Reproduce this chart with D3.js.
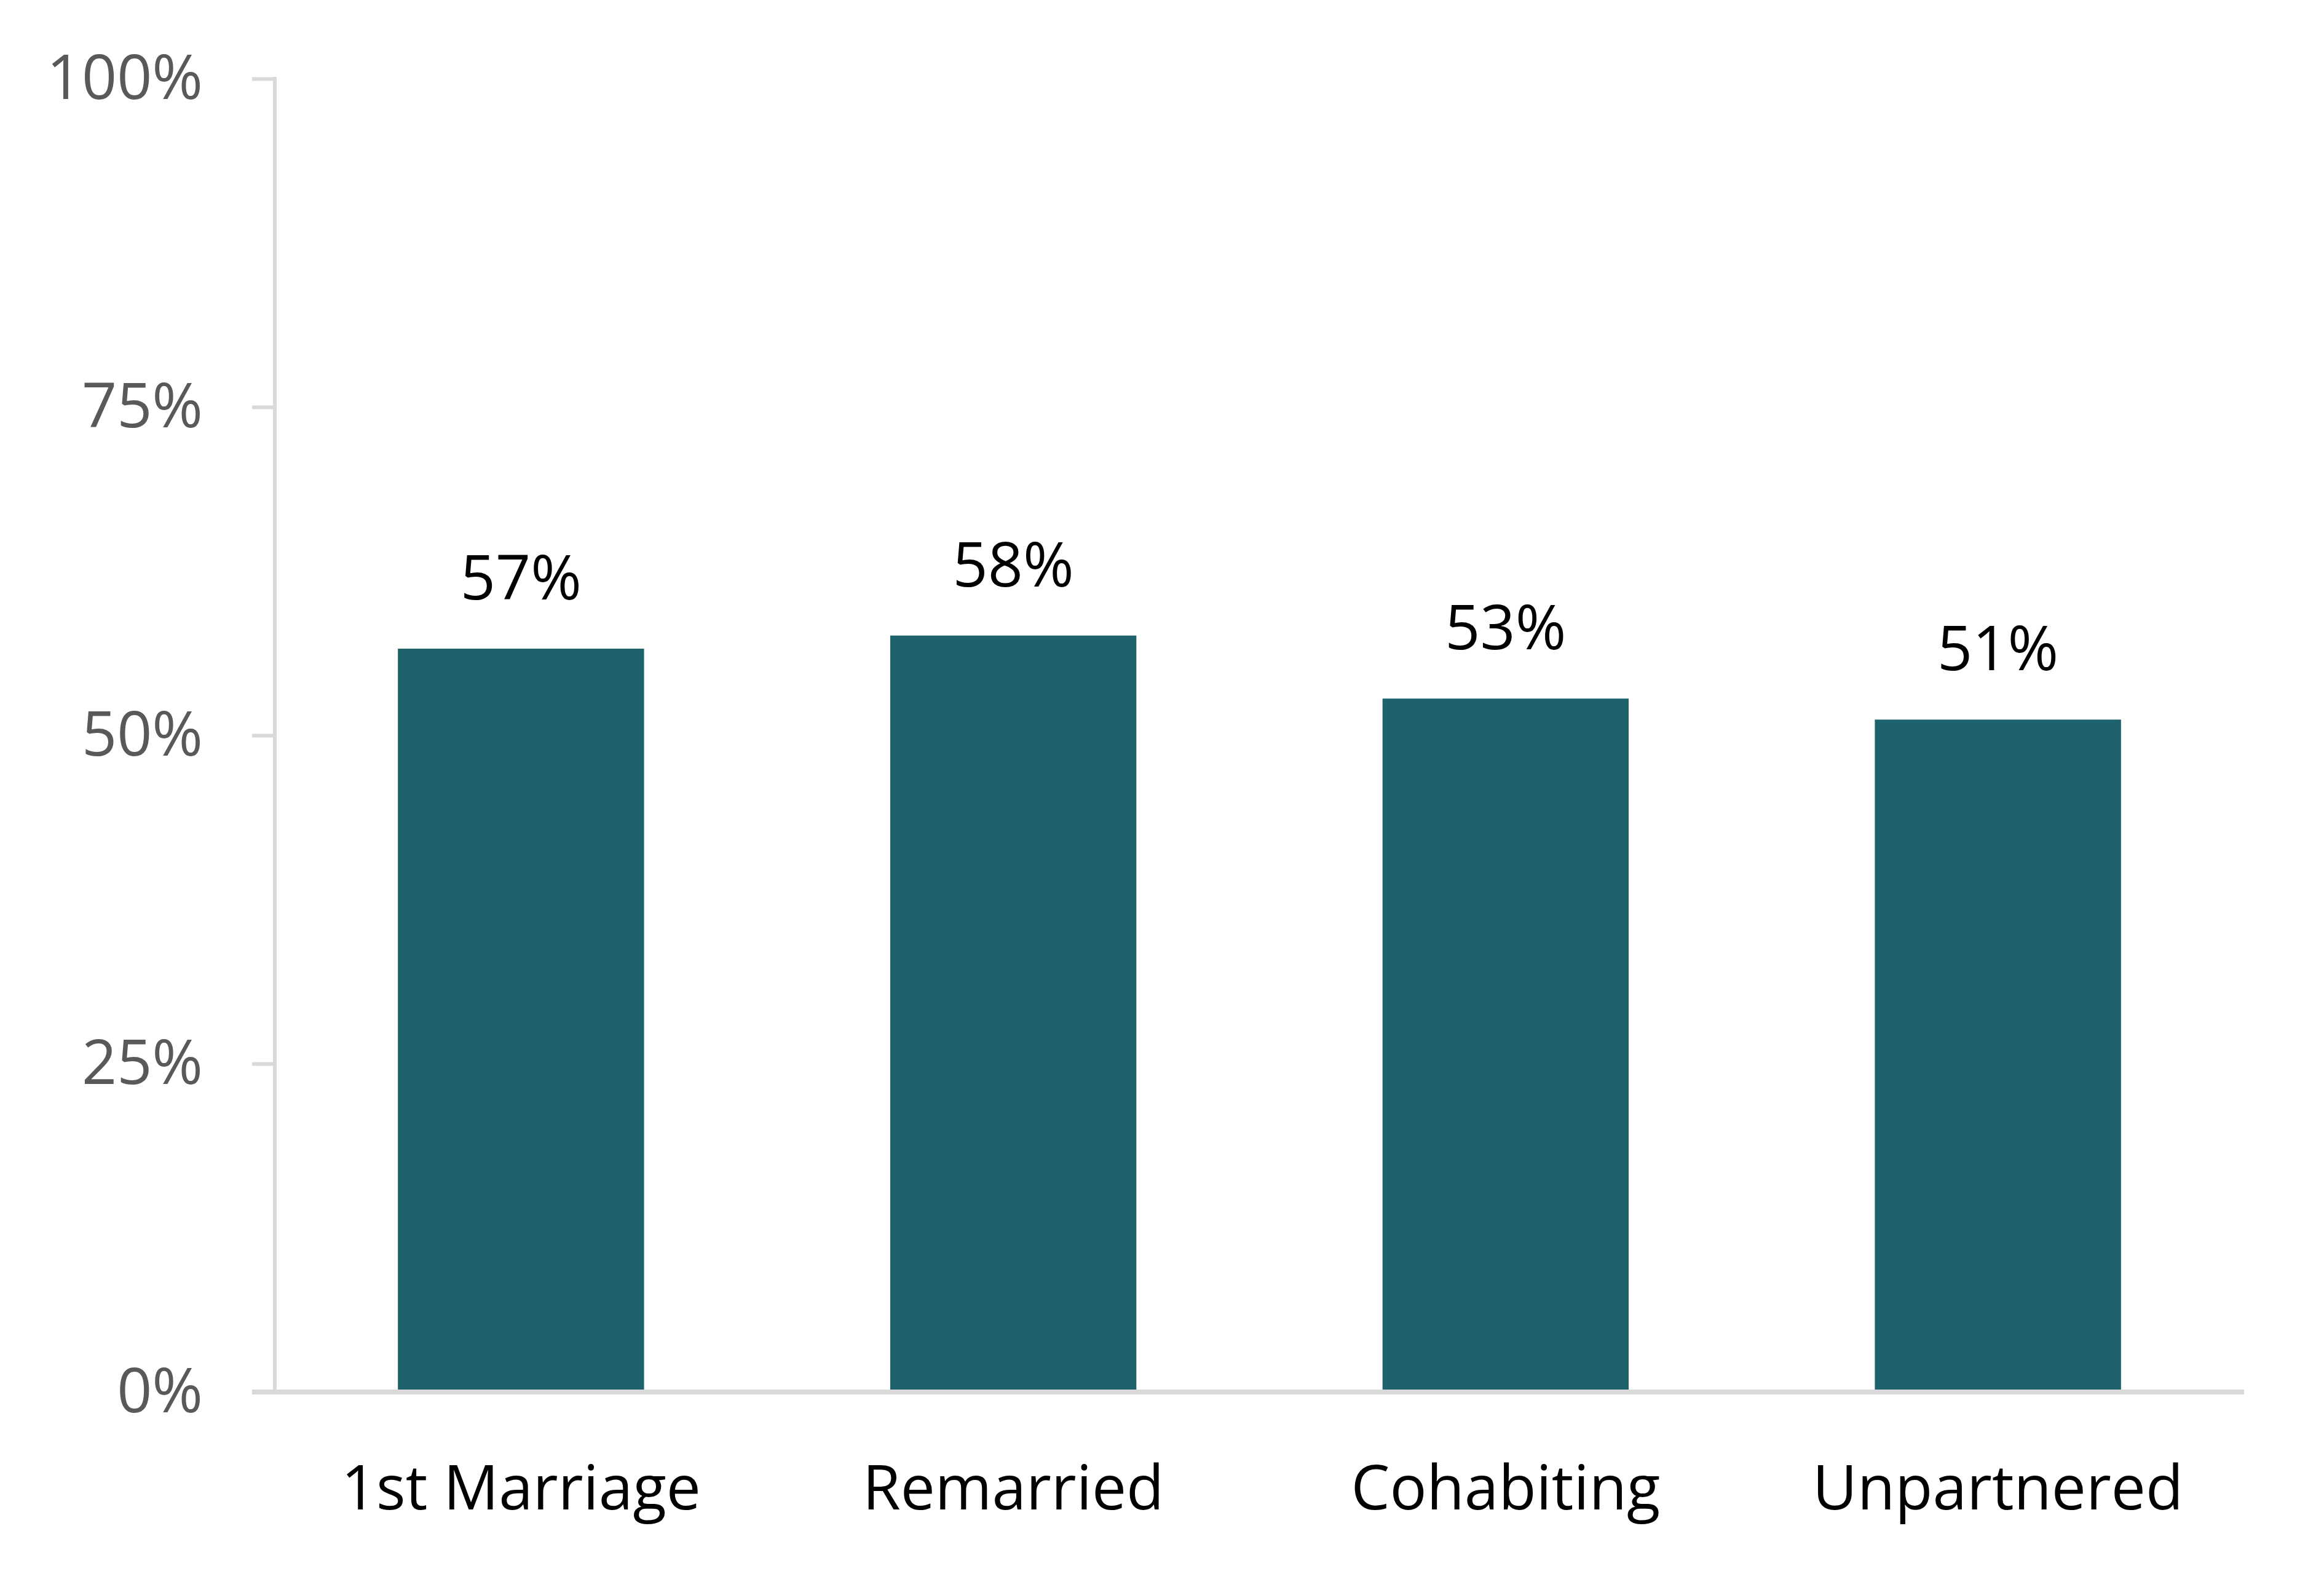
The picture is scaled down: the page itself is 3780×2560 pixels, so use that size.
<!DOCTYPE html>
<html>
<head>
<meta charset="utf-8">
<script src="https://cdn.jsdelivr.net/npm/d3@7"></script>
<style>
  html, body { margin: 0; padding: 0; background: #fff; }
  svg { display: block; }
</style>
</head>
<body>
<div id="chart-area"></div>
<script>
// data
const categories = ["1st Marriage", "Remarried", "Cohabiting", "Unpartnered"];
const values = [56.6, 57.6, 52.8, 51.2];
const valueLabels = ["57%", "58%", "53%", "51%"];
const yTicks = [0, 25, 50, 75, 100];

const W = 3780, H = 2560;
const margin = { left: 447, top: 128, right: 130, bottom: 296 };
const width = W - margin.left - margin.right;
const height = H - margin.top - margin.bottom;

const font = "'Open Sans', 'Noto Sans', sans-serif";

const svg = d3.select("#chart-area").append("svg")
	.attr("width", W)
	.attr("height", H);

const g = svg.append("g")
	.attr("transform", `translate(${margin.left},${margin.top})`);

const x = d3.scaleBand()
	.domain(categories)
	.range([0, width])
	.paddingInner(0.5)
	.paddingOuter(0.25);

const y = d3.scaleLinear()
	.domain([0, 100])
	.range([height, 0]);

// y axis
const axisLeft = d3.axisLeft(y)
	.tickValues(yTicks)
	.tickFormat(d => d + "%")
	.tickSize(37)
	.tickPadding(80);

const yAxis = g.append("g").call(axisLeft);
yAxis.select(".domain").remove();
yAxis.selectAll(".tick line")
	.attr("stroke", "#d9d9d9")
	.attr("stroke-width", 6);
yAxis.selectAll(".tick text")
	.attr("fill", "#595959")
	.attr("font-family", font)
	.attr("font-size", "100px");

g.append("line")
	.attr("x1", 0).attr("x2", 0)
	.attr("y1", y(100) - 3).attr("y2", y(0))
	.attr("stroke", "#d9d9d9")
	.attr("stroke-width", 6);

// bars
g.selectAll("rect.bar")
	.data(values)
	.enter()
	.append("rect")
	.attr("class", "bar")
	.attr("x", (d, i) => x(categories[i]))
	.attr("width", x.bandwidth())
	.attr("y", d => y(d))
	.attr("height", d => y(0) - y(d))
	.attr("fill", "#1d626d");

// value labels
g.selectAll("text.value")
	.data(values)
	.enter()
	.append("text")
	.attr("class", "value")
	.attr("x", (d, i) => x(categories[i]) + x.bandwidth() / 2)
	.attr("y", d => y(d) - 80)
	.attr("text-anchor", "middle")
	.attr("font-family", font)
	.attr("font-size", "100px")
	.attr("fill", "#000")
	.text((d, i) => valueLabels[i]);

// x axis
const axisBottom = d3.axisBottom(x).tickSize(0).tickPadding(120);
const xAxis = g.append("g")
	.attr("transform", `translate(0,${height})`)
	.call(axisBottom);
xAxis.select(".domain").remove();
xAxis.selectAll(".tick text")
	.attr("fill", "#000")
	.attr("font-family", font)
	.attr("font-size", "100px");

g.append("line")
	.attr("x1", -37).attr("x2", width)
	.attr("y1", height).attr("y2", height)
	.attr("stroke", "#d9d9d9")
	.attr("stroke-width", 8);
</script>
</body>
</html>
